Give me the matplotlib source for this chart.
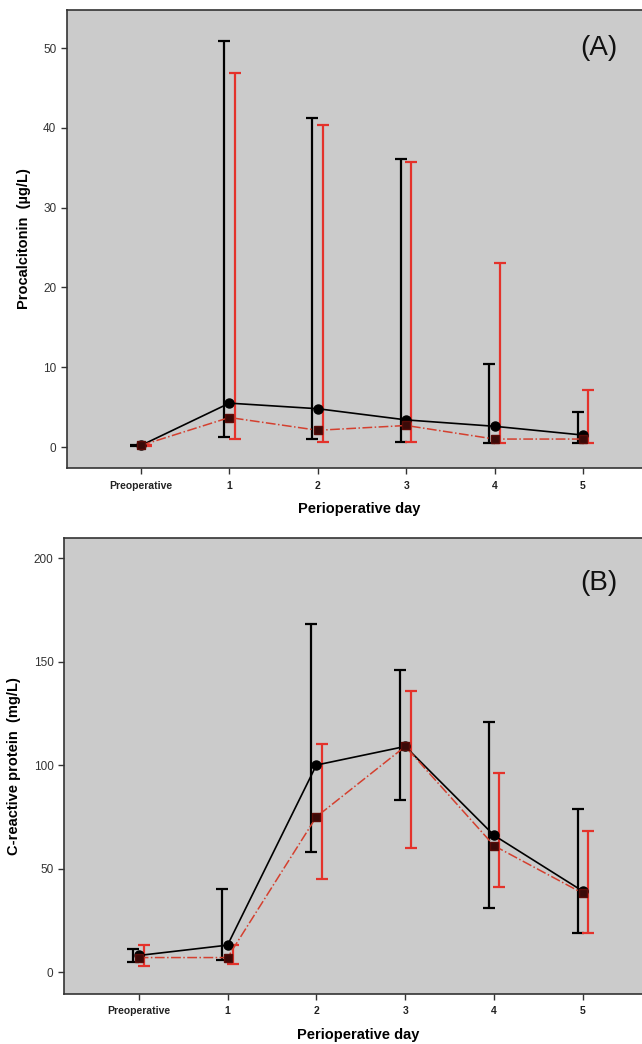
import matplotlib.pyplot as plt
import numpy as np

days = ['Preoperative', '1', '2', '3', '4', '5']

# panel A, procalcitonin (ug/L)
pct_black = [0.2, 5.5, 4.8, 3.4, 2.6, 1.5]
pct_black_lo = [0.1, 1.2, 1.0, 0.6, 0.5, 0.5]
pct_black_hi = [0.2, 50.9, 41.2, 36.1, 10.4, 4.4]
pct_red = [0.2, 3.7, 2.1, 2.7, 1.0, 1.0]
pct_red_lo = [0.1, 1.0, 0.6, 0.6, 0.5, 0.5]
pct_red_hi = [0.2, 46.9, 40.4, 35.7, 23.0, 7.2]

# panel B, C-reactive protein (mg/L)
crp_black = [8, 13, 100, 109, 66, 39]
crp_black_lo = [5, 6, 58, 83, 31, 19]
crp_black_hi = [11, 40, 168, 146, 121, 79]
crp_red = [7, 7, 75, 109, 61, 38]
crp_red_lo = [3, 4, 45, 60, 41, 19]
crp_red_hi = [13, 13, 110, 136, 96, 68]

BG = '#cbcbcb'
RED = '#e4322b'
plt.rcParams['font.family'] = ['Liberation Sans', 'DejaVu Sans']


def draw_panel(ax, mb, lb, hb, mr, lr, hr, ylab, letter, ylim, yticks, letter_y):
    x = np.arange(len(days))
    mb, lb, hb = np.array(mb), np.array(lb), np.array(hb)
    mr, lr, hr = np.array(mr), np.array(lr), np.array(hr)
    ax.set_facecolor(BG)
    ax.errorbar(x - 0.06, mb, yerr=[mb - lb, hb - mb], fmt='none', ecolor='black',
                elinewidth=1.6, capsize=4.6, capthick=1.6, zorder=2)
    ax.errorbar(x + 0.06, mr, yerr=[mr - lr, hr - mr], fmt='none', ecolor=RED,
                elinewidth=1.6, capsize=4.6, capthick=1.6, zorder=2)
    ax.plot(x, mb, '-', color='black', lw=1.2, marker='o', ms=6.5,
            mfc='black', mec='black', zorder=3)
    ax.plot(x, mr, '-.', color='#d4402f', lw=1.1, marker='s', ms=5.5,
            mfc='#3a0a08', mec='#5a0c08', zorder=4)
    ax.set_xlim(-0.84, 5.77)
    ax.set_ylim(*ylim)
    ax.set_yticks(yticks)
    ax.set_xticks(x)
    ax.set_xticklabels(days, fontsize=7.5, fontweight='bold')
    for lab in ax.get_yticklabels():
        lab.set_fontsize(8.5)
        lab.set_color('#333333')
    ax.tick_params(axis='both', direction='out', length=4, width=1, colors='#333333')
    ax.tick_params(axis='x', pad=5, labelcolor='#222222')
    for s in ax.spines.values():
        s.set_linewidth(1.2)
        s.set_color('#333333')
    ax.set_xlabel('Perioperative day', fontsize=10.5, fontweight='bold', labelpad=8)
    ax.set_ylabel(ylab, fontsize=10.5, fontweight='bold', labelpad=9)
    ax.text(5.18, letter_y, letter, fontsize=20, ha='center', va='center', color='#111111')


fig = plt.figure(figsize=(6.42, 10.44), dpi=100)
ax1 = fig.add_axes([0.104, 0.5517, 0.91, 0.4387])
ax2 = fig.add_axes([0.0997, 0.0479, 0.915, 0.4368])

draw_panel(ax1, pct_black, pct_black_lo, pct_black_hi, pct_red, pct_red_lo, pct_red_hi,
           'Procalcitonin  (µg/L)', '(A)', (-2.63, 54.76), [0, 10, 20, 30, 40, 50], 50)
draw_panel(ax2, crp_black, crp_black_lo, crp_black_hi, crp_red, crp_red_lo, crp_red_hi,
           'C-reactive protein  (mg/L)', '(B)', (-10.6, 209.7), [0, 50, 100, 150, 200], 188)

fig.savefig('out.png', dpi=100)
